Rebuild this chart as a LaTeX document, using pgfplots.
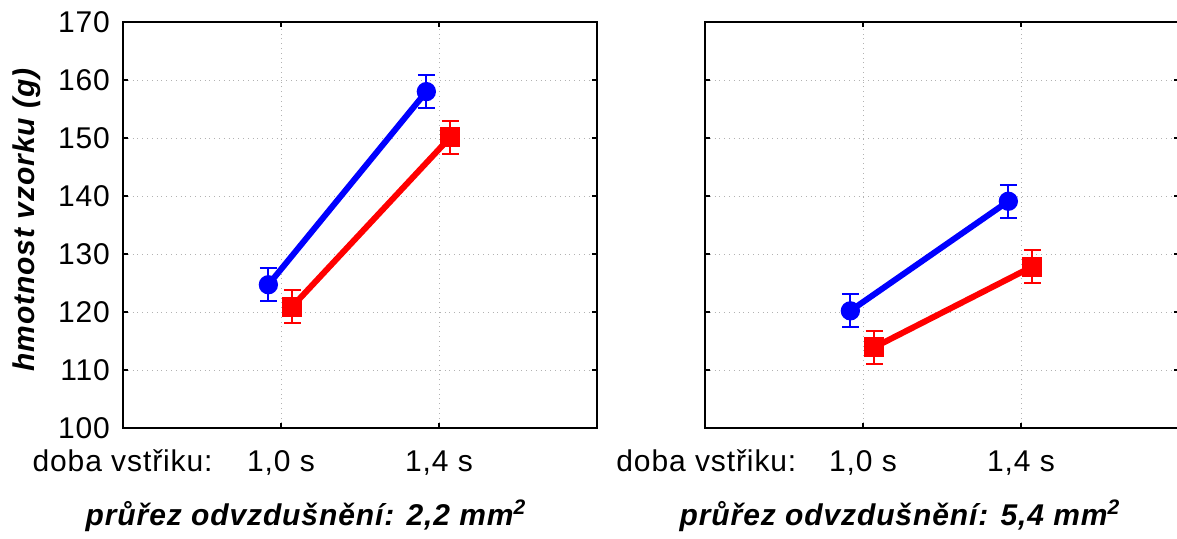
\documentclass[border=0pt]{standalone}
\usepackage{fontspec}
\setmainfont{Liberation Sans}[LetterSpace=3]
\usepackage{pgfplots}
\pgfplotsset{compat=1.18}

\newcommand{\fs}{\fontsize{15pt}{17pt}\selectfont}

\pgfplotsset{
  panel/.style={
    scale only axis, width=237pt, height=203pt, anchor=south west,
    xmin=0, xmax=3, ymin=100, ymax=170,
    xtick={1,2}, xticklabels={{1,0 s},{1,4 s}},
    ytick={100,110,...,170},
    tick align=inside, major tick length=2.5pt,
    xtick pos=both, ytick pos=both,
    grid=major, grid style={gray!60, dotted, line width=0.5pt},
    axis line style={line width=1pt},
    tick style={black, line width=0.8pt},
    tick label style={font=\fs},
    /pgf/number format/assume math mode=true,
    xticklabel style={anchor=base, yshift=-21.5pt},
    yticklabel style={xshift=-3pt},
    clip=false,
  },
  ser/.style={line width=3pt,
    error bars/y dir=both, error bars/y explicit,
    error bars/error bar style={line width=1pt, solid},
    error bars/error mark options={rotate=90, mark size=4.25pt, line width=1pt}},
}

\begin{document}
\begin{tikzpicture}
\useasboundingbox (0,0) rectangle (588.5pt,269pt);

\begin{axis}[panel, at={(61.5pt,55pt)}]
  \addplot[blue, ser, mark=*, mark size=3.3pt] coordinates {
    (0.92,124.7) +- (0,2.85)
    (1.92,158.0) +- (0,2.9)
  };
  \addplot[red, ser, mark=square*, mark size=3.5pt] coordinates {
    (1.07,120.9) +- (0,2.85)
    (2.07,150.1) +- (0,2.85)
  };
  \node[anchor=base east, font=\fs, yshift=-21.5pt, xshift=4pt] at (rel axis cs:0.187,0) {doba vstřiku:};
\end{axis}

\begin{axis}[panel, at={(352.5pt,55pt)}, yticklabels={}]
  \addplot[blue, ser, mark=*, mark size=3.3pt] coordinates {
    (0.92,120.2) +- (0,2.85)
    (1.92,139.1) +- (0,2.85)
  };
  \addplot[red, ser, mark=square*, mark size=3.5pt] coordinates {
    (1.07,113.9) +- (0,2.85)
    (2.07,127.8) +- (0,2.85)
  };
  \node[anchor=base east, font=\fs, yshift=-21.5pt, xshift=3pt] at (rel axis cs:0.195,0) {doba vstřiku:};
\end{axis}

\node[rotate=90, font=\fs\bfseries\itshape] at (13.5pt,159pt) {hmotnost vzorku (g)};
\node[anchor=base, font=\fs\bfseries\itshape] at (153pt,6.5pt) {průřez odvzdušnění: 2,2 mm\textsuperscript{2}};
\node[anchor=base, font=\fs\bfseries\itshape] at (450pt,6.5pt) {průřez odvzdušnění: 5,4 mm\textsuperscript{2}};
\end{tikzpicture}
\end{document}
